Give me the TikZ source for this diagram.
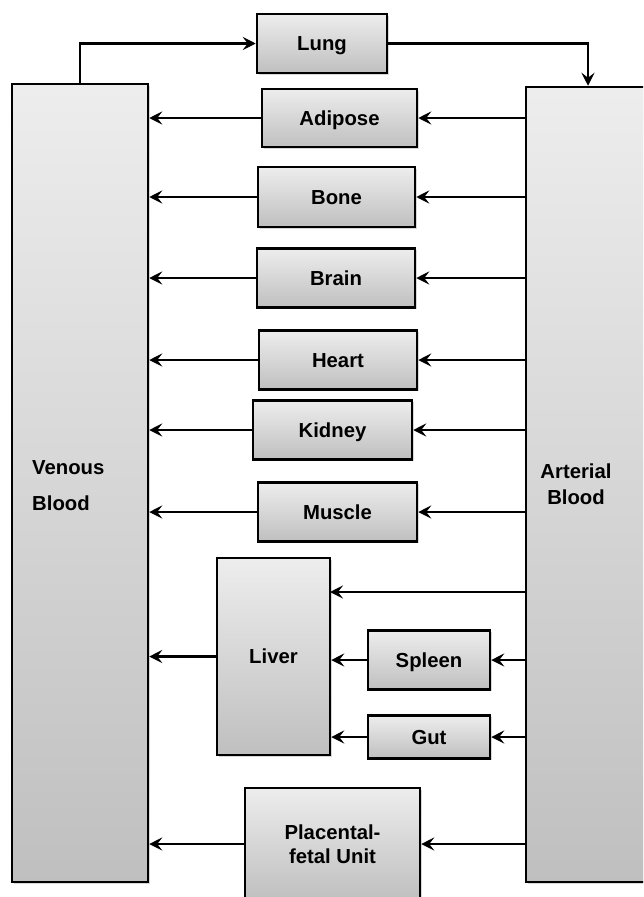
\documentclass[tikz,border=0pt]{standalone}
\usepackage{fontspec}
\setmainfont{Liberation Sans}
\usetikzlibrary{arrows.meta,shadows,calc}
\begin{document}
\begin{tikzpicture}[x=1pt,y=-1pt,
  box/.style={draw=black, line width=2.5pt, rectangle, inner sep=0pt,
    top color=gray!14, bottom color=gray!50,
    drop shadow={opacity=0.3, shadow xshift=1.5pt, shadow yshift=-1.5pt},
    font=\fontsize{20.3}{24}\selectfont\bfseries},
  one/.style={text height=14.5pt, text depth=0pt},
  lbl/.style={inner sep=0pt, font=\fontsize{20.3}{24}\selectfont\bfseries},
  arr/.style={line width=2.6pt, -{Stealth[length=13pt,width=13pt,inset=5pt]}}
]
\clip (0,0) rectangle (643,897);
\fill[white] (0,0) rectangle (643,897);

% big blood boxes
\node[box, minimum width=136pt, minimum height=798pt] (venous) at (80,483) {};
\node[box, minimum width=124pt, minimum height=795pt] (arterial) at (588,484.5) {};
\node[lbl, anchor=west, align=left] (vtext) at (32,485.5) {Venous\\[12pt]Blood};
\node[lbl, align=center] (atext) at (576,484) {Arterial\\[1.5pt]Blood};

% organ boxes
\node[box, one, minimum width=130pt, minimum height=59pt] (lung) at (322,43.5) {Lung};
\node[box, one, minimum width=155pt, minimum height=58pt] (adipose) at (339.5,118) {Adipose};
\node[box, one, minimum width=157pt, minimum height=60pt] (bone) at (336.5,197) {Bone};
\node[box, one, minimum width=158pt, minimum height=59pt] (brain) at (336,278) {Brain};
\node[box, one, minimum width=158pt, minimum height=59pt] (heart) at (338,360) {Heart};
\node[box, one, minimum width=159pt, minimum height=59pt] (kidney) at (332.5,430) {Kidney};
\node[box, one, minimum width=159pt, minimum height=59pt] (muscle) at (337.5,512) {Muscle};
\node[box, one, minimum width=113pt, minimum height=197pt] (liver) at (273.5,656.5) {Liver};
\node[box, one, minimum width=122pt, minimum height=59pt] (spleen) at (429,660) {Spleen};
\node[box, one, minimum width=122pt, minimum height=43pt] (gut) at (429,737) {Gut};
\node[box, align=center, minimum width=175pt, minimum height=112pt] (placenta) at (332.5,844) {Placental-\\[0.5pt]fetal Unit};

\coordinate (livin) at (330,592);

% lung loop
\draw[arr] (venous.north) |- (lung.west);
\draw[arr] (lung.east) -| (arterial.north);

% organ arrows
\foreach \o in {adipose,bone,brain,heart,kidney,muscle}{
  \draw[arr] (arterial.west |- \o.east) -- (\o.east);
  \draw[arr] (\o.west) -- (venous.east |- \o.west);
}
\draw[arr] (arterial.west |- livin) -- (livin);
\draw[arr] (arterial.west |- spleen.east) -- (spleen.east);
\draw[arr] (spleen.west) -- (liver.east |- spleen.west);
\draw[arr] (arterial.west |- gut.east) -- (gut.east);
\draw[arr] (gut.west) -- (liver.east |- gut.west);
\draw[arr] (liver.west) -- (venous.east |- liver.west);
\draw[arr] (arterial.west |- placenta.east) -- (placenta.east);
\draw[arr] (placenta.west) -- (venous.east |- placenta.west);
\end{tikzpicture}
\end{document}
